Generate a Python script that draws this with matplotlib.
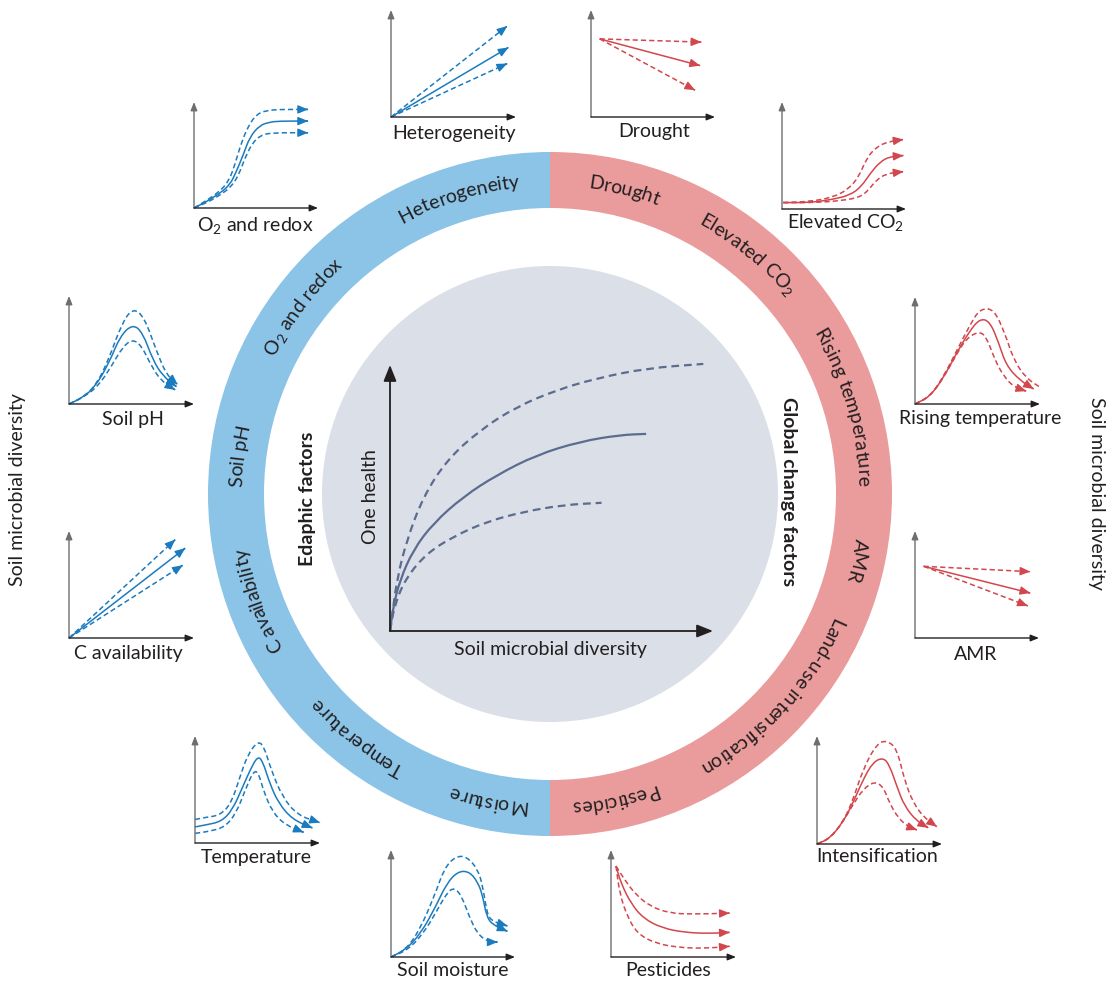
import matplotlib
matplotlib.use("Agg")
import matplotlib.pyplot as plt
from matplotlib.patches import Wedge, Circle, PathPatch
from matplotlib.path import Path
from matplotlib.textpath import TextPath
from matplotlib.font_manager import FontProperties
import numpy as np

plt.rcParams['font.family'] = ['Lato', 'DejaVu Sans']
plt.rcParams['mathtext.fontset'] = 'custom'
plt.rcParams['mathtext.rm'] = 'Lato'
plt.rcParams['mathtext.it'] = 'Lato:italic'
plt.rcParams['mathtext.bf'] = 'Lato:bold'

W, H = 1116, 982
INK = "#231f20"
AXGREY = "#6d6e71"
BLUE = "#1b7bbf"
RED = "#d2474d"
RING_BLUE = "#8bc4e7"
RING_RED = "#ea9b9b"
DISC = "#dadfe8"
SLATE = "#5b6c8f"
FS = 14

# ---- central chart: one health vs soil microbial diversity (axis fractions)
one_hi = [(0, 0), (0.005, 0.041), (0.021, 0.192), (0.052, 0.342), (0.103, 0.505),
          (0.176, 0.643), (0.279, 0.756), (0.392, 0.843), (0.516, 0.906),
          (0.640, 0.950), (0.795, 0.988), (0.970, 1.004)]
one_mid = [(0, 0), (0.010, 0.091), (0.031, 0.192), (0.072, 0.305), (0.134, 0.405),
           (0.227, 0.505), (0.330, 0.586), (0.454, 0.662), (0.588, 0.712),
           (0.712, 0.737), (0.793, 0.741)]
one_lo = [(0, 0), (0.015, 0.104), (0.052, 0.204), (0.114, 0.292), (0.196, 0.355),
          (0.299, 0.411), (0.413, 0.448), (0.537, 0.474), (0.655, 0.482)]

# ---- small response charts (axis fractions)
o2_hi = [(0, 0), (0.10, 0.07), (0.20, 0.15), (0.28, 0.25), (0.33, 0.41), (0.38, 0.61),
         (0.44, 0.78), (0.51, 0.89), (0.59, 0.92), (0.69, 0.93), (0.92, 0.93)]
o2_mid = [(0, 0), (0.10, 0.06), (0.21, 0.14), (0.29, 0.22), (0.34, 0.34), (0.40, 0.51),
          (0.45, 0.67), (0.53, 0.78), (0.61, 0.81), (0.69, 0.82), (0.92, 0.82)]
o2_lo = [(0, 0), (0.12, 0.06), (0.22, 0.13), (0.30, 0.20), (0.36, 0.31), (0.41, 0.47),
         (0.47, 0.61), (0.53, 0.68), (0.61, 0.71), (0.92, 0.71)]

het_hi = [(0, 0), (0.93, 0.85)]
het_mid = [(0, 0), (0.94, 0.65)]
het_lo = [(0, 0), (0.93, 0.50)]

dro_hi = [(0.07, 0.73), (0.89, 0.70)]
dro_mid = [(0.07, 0.73), (0.88, 0.48)]
dro_lo = [(0.07, 0.73), (0.84, 0.25)]

co2_hi = [(0.01, 0.06), (0.23, 0.07), (0.41, 0.11), (0.53, 0.18), (0.62, 0.30),
          (0.68, 0.47), (0.76, 0.58), (0.86, 0.63), (0.98, 0.65)]
co2_mid = [(0.01, 0.06), (0.23, 0.06), (0.41, 0.09), (0.55, 0.13), (0.64, 0.21),
           (0.71, 0.33), (0.79, 0.44), (0.87, 0.49), (0.98, 0.50)]
co2_lo = [(0.01, 0.06), (0.28, 0.06), (0.49, 0.08), (0.63, 0.11), (0.70, 0.18),
          (0.76, 0.27), (0.84, 0.33), (0.98, 0.35)]

rt_hi = [(0, 0), (0.12, 0.07), (0.23, 0.26), (0.33, 0.49), (0.44, 0.74), (0.52, 0.89),
         (0.63, 0.89), (0.72, 0.66), (0.79, 0.41), (0.89, 0.24), (1.01, 0.15)]
rt_mid = [(0, 0), (0.12, 0.07), (0.23, 0.25), (0.33, 0.47), (0.43, 0.67), (0.52, 0.80),
          (0.60, 0.77), (0.67, 0.57), (0.73, 0.36), (0.84, 0.22), (0.95, 0.14)]
rt_lo = [(0, 0), (0.12, 0.07), (0.23, 0.25), (0.33, 0.46), (0.41, 0.61), (0.51, 0.68),
         (0.57, 0.63), (0.64, 0.41), (0.71, 0.26), (0.79, 0.16), (0.89, 0.12)]

amr_hi = [(0.07, 0.67), (0.93, 0.62)]
amr_mid = [(0.07, 0.67), (0.93, 0.42)]
amr_lo = [(0.07, 0.67), (0.91, 0.30)]

int_hi = [(0, 0), (0.10, 0.05), (0.20, 0.19), (0.28, 0.38), (0.37, 0.70), (0.48, 0.93),
          (0.56, 0.96), (0.64, 0.88), (0.70, 0.59), (0.77, 0.38), (0.86, 0.24), (0.96, 0.16)]
int_mid = [(0, 0), (0.10, 0.05), (0.20, 0.19), (0.28, 0.36), (0.37, 0.60), (0.45, 0.76),
           (0.53, 0.80), (0.58, 0.73), (0.64, 0.53), (0.70, 0.35), (0.80, 0.21), (0.89, 0.15)]
int_lo = [(0, 0), (0.10, 0.05), (0.20, 0.19), (0.28, 0.35), (0.37, 0.51), (0.46, 0.58),
          (0.53, 0.53), (0.58, 0.38), (0.65, 0.24), (0.73, 0.16), (0.80, 0.13)]

pes_hi = [(0.04, 0.85), (0.11, 0.72), (0.20, 0.58), (0.32, 0.47), (0.47, 0.41),
          (0.65, 0.40), (0.95, 0.41)]
pes_mid = [(0.04, 0.85), (0.08, 0.69), (0.16, 0.50), (0.26, 0.36), (0.41, 0.27),
           (0.59, 0.23), (0.77, 0.22), (0.95, 0.23)]
pes_lo = [(0.04, 0.85), (0.07, 0.59), (0.13, 0.38), (0.21, 0.22), (0.35, 0.13),
          (0.53, 0.09), (0.74, 0.08), (0.95, 0.10)]

moi_hi = [(0, 0), (0.12, 0.07), (0.23, 0.25), (0.35, 0.57), (0.43, 0.83), (0.52, 0.94),
          (0.61, 0.94), (0.70, 0.82), (0.74, 0.66), (0.77, 0.44), (0.80, 0.34), (0.94, 0.29)]
moi_mid = [(0, 0), (0.12, 0.07), (0.24, 0.22), (0.36, 0.47), (0.45, 0.69), (0.54, 0.80),
           (0.63, 0.80), (0.70, 0.70), (0.74, 0.57), (0.77, 0.38), (0.82, 0.30), (0.94, 0.24)]
moi_lo = [(0, 0), (0.14, 0.07), (0.26, 0.22), (0.36, 0.41), (0.45, 0.60), (0.51, 0.65),
          (0.57, 0.57), (0.63, 0.38), (0.70, 0.21), (0.79, 0.14), (0.86, 0.14)]

tem_hi = [(0, 0.22), (0.09, 0.24), (0.20, 0.26), (0.29, 0.37), (0.36, 0.62), (0.42, 0.82),
          (0.50, 0.95), (0.55, 0.91), (0.61, 0.68), (0.70, 0.43), (0.82, 0.26), (1.0, 0.19)]
tem_mid = [(0, 0.15), (0.09, 0.17), (0.21, 0.20), (0.30, 0.31), (0.38, 0.52), (0.44, 0.68),
           (0.50, 0.81), (0.54, 0.77), (0.60, 0.55), (0.67, 0.37), (0.78, 0.22), (0.94, 0.14)]
tem_lo = [(0, 0.09), (0.12, 0.11), (0.24, 0.15), (0.33, 0.28), (0.40, 0.49), (0.47, 0.68),
          (0.51, 0.65), (0.55, 0.48), (0.62, 0.29), (0.72, 0.17), (0.87, 0.10)]

cav_hi = [(0, 0), (0.85, 0.92)]
cav_mid = [(0, 0), (0.93, 0.84)]
cav_lo = [(0, 0), (0.91, 0.68)]

ph_hi = [(0, 0), (0.11, 0.06), (0.22, 0.18), (0.32, 0.42), (0.42, 0.74), (0.51, 0.89),
         (0.60, 0.81), (0.70, 0.49), (0.78, 0.27), (0.87, 0.18)]
ph_mid = [(0, 0), (0.11, 0.06), (0.21, 0.16), (0.32, 0.38), (0.41, 0.63), (0.51, 0.74),
          (0.59, 0.66), (0.67, 0.41), (0.75, 0.26), (0.86, 0.16)]
ph_lo = [(0, 0), (0.11, 0.06), (0.23, 0.16), (0.34, 0.35), (0.43, 0.53), (0.51, 0.60),
         (0.58, 0.54), (0.66, 0.35), (0.74, 0.21), (0.85, 0.13)]

# ring labels and their angular positions (degrees, counter-clockwise from east)
edaphic_labels = ["Heterogeneity", "O₂ and redox", "Soil pH", "C availability",
                  "Temperature", "Moisture"]
edaphic_angles = [107.0, 142.8, 173.0, 200.0, 231.6, 258.4]
global_labels = ["Drought", "Elevated CO₂", "Rising temperature", "AMR",
                 "Land-use intensification", "Pesticides"]
global_angles = [76.2, 50.5, 16.4, -12.2, -42.3, -78.0]

# small chart frames: y-axis x, x-axis y, x-arrow tip, y-arrow tip (image pixels)
minis = [
    ("O$_2$ and redox", (194, 208, 318, 102), (255, 225), BLUE, o2_hi, o2_mid, o2_lo),
    ("Heterogeneity", (391, 117, 516, 10), (454, 133), BLUE, het_hi, het_mid, het_lo),
    ("Drought", (591, 117, 715, 10), (654, 131), RED, dro_hi, dro_mid, dro_lo),
    ("Elevated CO$_2$", (782, 209, 906, 102), (846, 222), RED, co2_hi, co2_mid, co2_lo),
    ("Rising temperature", (915, 404, 1040, 297), (980, 418), RED, rt_hi, rt_mid, rt_lo),
    ("AMR", (915, 638, 1039, 531), (976, 655), RED, amr_hi, amr_mid, amr_lo),
    ("Intensification", (817, 844, 942, 736), (877, 857), RED, int_hi, int_mid, int_lo),
    ("Pesticides", (611, 957, 736, 850), (668, 970), RED, pes_hi, pes_mid, pes_lo),
    ("Soil moisture", (391, 957, 515, 850), (453, 970), BLUE, moi_hi, moi_mid, moi_lo),
    ("Temperature", (195, 843, 320, 736), (256, 858), BLUE, tem_hi, tem_mid, tem_lo),
    ("C availability", (69, 638, 194, 531), (128, 653), BLUE, cav_hi, cav_mid, cav_lo),
    ("Soil pH", (69, 404, 194, 296), (133, 419), BLUE, ph_hi, ph_mid, ph_lo),
]

CX, CY = 550, H - 494
R_OUT, R_W = 342, 56
R_TXT = 308
R_DISC = 228

fig = plt.figure(figsize=(W / 100, H / 100), dpi=100)
bg = fig.add_axes([0, 0, 1, 1])
bg.set_xlim(0, W); bg.set_ylim(0, H); bg.axis("off")

bg.add_patch(Wedge((CX, CY), R_OUT, 90, 270, width=R_W, color=RING_BLUE, lw=0))
bg.add_patch(Wedge((CX, CY), R_OUT, -90, 90, width=R_W, color=RING_RED, lw=0))
bg.add_patch(Circle((CX, CY), R_DISC, color=DISC, lw=0))

LATO = FontProperties(family="Lato")


def ink(s, px):
    # ink extents of a string set at px pixels (measurement only)
    return TextPath((0, 0), s, size=px, prop=LATO).get_extents()


def arc_label(label, theta, size=FS):
    # one real text per letter, placed clockwise round the ring, tops outward
    px = size * 100 / 72
    toks = ["$_2$" if c == "₂" else c for c in label]
    full = ink("".join(toks), px)
    mid0 = (full.x0 + full.x1) / 2
    sub_drop = ink("O$_2$", px).y0
    for i, tok in enumerate(toks):
        if tok == " ":
            continue
        right = ink("".join(toks[:i + 1]), px).x1
        w = ink(tok, px).width
        s = right - w / 2 - mid0
        a = np.radians(theta) - s / R_TXT
        if tok == "$_2$":
            ch, fs, r = "2", size * 0.7, R_TXT + sub_drop
        else:
            ch, fs, r = tok, size, R_TXT
        bg.text(CX + r * np.cos(a), CY + r * np.sin(a), ch, fontsize=fs,
                color=INK, rotation=np.degrees(a) - 90, rotation_mode="anchor",
                ha="center", va="baseline")


for lbl, ang in zip(edaphic_labels + global_labels, edaphic_angles + global_angles):
    arc_label(lbl, ang)

bg.text(308, H - 499, "Edaphic factors", rotation=90, ha="center", va="center",
        fontsize=FS, fontweight="bold", color=INK)
bg.text(788, H - 492, "Global change factors", rotation=-90, ha="center", va="center",
        fontsize=FS, fontweight="bold", color=INK)
bg.text(18, H - 490, "Soil microbial diversity", rotation=90, ha="center", va="center",
        fontsize=FS, color=INK)
bg.text(1097, H - 493, "Soil microbial diversity", rotation=-90, ha="center", va="center",
        fontsize=FS, color=INK)


def frame_axes(x0, y0, x1, y1):
    ax = fig.add_axes([x0 / W, 1 - y0 / H, (x1 - x0) / W, (y0 - y1) / H])
    ax.set_xlim(0, 1); ax.set_ylim(0, 1); ax.axis("off")
    return ax


def axis_arrows(ax, ycol, xcol, lw, style, ms):
    ax.annotate("", xy=(0, 1), xytext=(0, 0), xycoords="axes fraction",
                arrowprops=dict(arrowstyle=style, color=ycol, lw=lw,
                                shrinkA=0, shrinkB=0, mutation_scale=ms))
    ax.annotate("", xy=(1, 0), xytext=(0, 0), xycoords="axes fraction",
                arrowprops=dict(arrowstyle=style, color=xcol, lw=lw,
                                shrinkA=0, shrinkB=0, mutation_scale=ms))


def smooth_path(pts):
    # quadratic bezier through segment midpoints, read points act as controls
    if len(pts) <= 2:
        return Path(pts)
    mids = [((pts[i][0] + pts[i + 1][0]) / 2, (pts[i][1] + pts[i + 1][1]) / 2)
            for i in range(len(pts) - 1)]
    verts = [pts[0], mids[0]]
    codes = [Path.MOVETO, Path.LINETO]
    for i in range(1, len(pts) - 1):
        verts += [pts[i], mids[i]]
        codes += [Path.CURVE3, Path.CURVE3]
    verts.append(pts[-1])
    codes.append(Path.LINETO)
    return Path(verts, codes)


def curve(ax, pts, color, dashed, lw=1.1, dash=(3.4, 2.0), head=True):
    ax.add_patch(PathPatch(smooth_path(pts), fill=False, edgecolor=color, lw=lw,
                           ls=(0, dash) if dashed else "-", clip_on=False,
                           capstyle="butt"))
    if not head:
        return
    (xa, ya), (xb, yb) = pts[-2], pts[-1]
    d = np.hypot(xb - xa, yb - ya)
    tail = (xb - 0.01 * (xb - xa) / d, yb - 0.01 * (yb - ya) / d)
    ax.annotate("", xy=(xb, yb), xytext=tail,
                arrowprops=dict(arrowstyle="-|>,head_length=0.6,head_width=0.25",
                                color=color, lw=1.0, shrinkA=0, shrinkB=0,
                                mutation_scale=10))


for lbl, frame, lpos, col, hi, mid, lo in minis:
    ax = frame_axes(*frame)
    axis_arrows(ax, AXGREY, INK, 1.0, "-|>,head_length=0.55,head_width=0.22", 9)
    curve(ax, hi, col, True)
    curve(ax, mid, col, False)
    curve(ax, lo, col, True)
    bg.text(lpos[0], H - lpos[1], lbl, ha="center", va="center", fontsize=FS, color=INK)

# central chart
main = frame_axes(390, 631, 713, 365)
axis_arrows(main, INK, INK, 1.3, "-|>,head_length=0.75,head_width=0.3", 13)
for pts, dashed in [(one_hi, True), (one_mid, False), (one_lo, True)]:
    curve(main, pts, SLATE, dashed, lw=1.6, dash=(3.5, 2.2), head=False)
bg.text(550, H - 649, "Soil microbial diversity", ha="center", va="center",
        fontsize=FS, color=INK)
bg.text(371, H - 497, "One health", rotation=90, ha="center", va="center",
        fontsize=FS, color=INK)

fig.savefig("out.png", dpi=100)
